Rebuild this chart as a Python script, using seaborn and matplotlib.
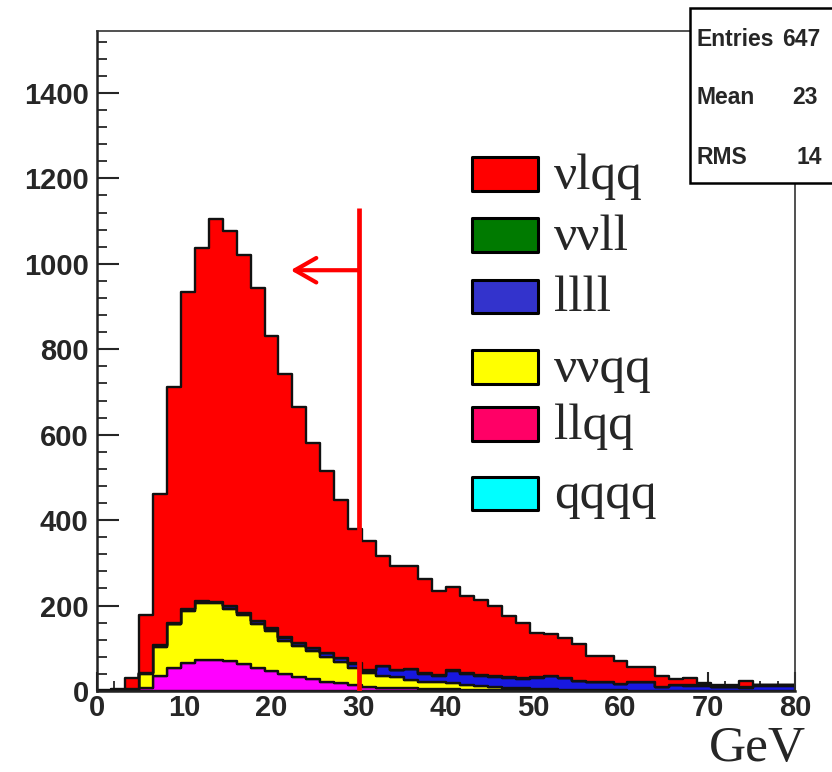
import numpy as np
import pandas as pd
import matplotlib
matplotlib.use("Agg")
import matplotlib.pyplot as plt
import seaborn as sns
from matplotlib.patches import Rectangle
from matplotlib.ticker import MultipleLocator

# ---------------- data (events per 1.6 GeV bin, 0-80 GeV) ----------------
processes = ["vlqq", "vvll", "llll", "vvqq", "llqq", "qqqq"]
legend_labels = ["νlqq", "ννll", "llll", "ννqq", "llqq", "qqqq"]

vlqq = [2, 2, 25, 136, 355, 553, 743, 827, 895, 878,
        838, 778, 684, 616, 551, 479, 427, 370, 315, 303,
        258, 243, 241, 222, 198, 195, 182, 175, 166, 144,
        129, 103, 98, 92, 87, 60, 60, 54, 36, 36,
        26, 14, 18, 6, 5, 5, 15, 2, 2, 1]
vvll = [0, 0, 0, 0, 1, 1, 1, 1, 1, 1,
        1, 1, 1, 1, 1, 1, 1, 1, 1, 1,
        1, 1, 1, 1, 1, 1, 1, 1, 1, 1,
        1, 1, 1, 1, 1, 1, 1, 1, 1, 1,
        1, 1, 1, 1, 1, 1, 1, 1, 1, 1]
llll = [0, 1, 1, 2, 2, 2, 3, 3, 3, 5,
        5, 6, 6, 7, 6, 6, 8, 9, 9, 4,
        22, 17, 26, 20, 16, 29, 25, 24, 24, 23,
        23, 26, 31, 27, 20, 18, 18, 14, 19, 19,
        8, 13, 12, 12, 9, 9, 8, 12, 12, 12]
vvqq = [0, 2, 3, 32, 69, 101, 122, 135, 132, 123,
        114, 103, 93, 78, 73, 66, 58, 50, 41, 33,
        28, 25, 19, 15, 16, 14, 12, 9, 7, 6,
        4, 4, 3, 2, 2, 1, 2, 2, 1, 1,
        1, 1, 0, 0, 0, 0, 0, 0, 0, 0]
llqq = [0, 0, 1, 8, 35, 55, 66, 72, 73, 70,
        63, 55, 47, 40, 33, 28, 22, 18, 14, 10,
        8, 7, 6, 5, 4, 4, 3, 3, 2, 2,
        2, 1, 1, 1, 1, 1, 0, 0, 0, 0,
        0, 0, 0, 0, 0, 0, 0, 0, 0, 0]
qqqq = [0, 0, 0, 0, 0, 0, 0, 0, 0, 0,
        0, 0, 0, 0, 0, 0, 0, 0, 0, 0,
        0, 0, 0, 0, 0, 0, 0, 0, 0, 0,
        0, 0, 0, 0, 0, 0, 0, 0, 0, 0,
        0, 0, 0, 0, 0, 0, 0, 0, 0, 0]

x_min, x_max, n_bins = 0, 80, 50
y_max = 1545
y_ticks = [0, 200, 400, 600, 800, 1000, 1200, 1400]
x_ticks = [0, 10, 20, 30, 40, 50, 60, 70, 80]
cut_value = 30
cut_top = 1130
arrow_tip = 22.2
arrow_y = 985
stats = [("Entries", "647"), ("Mean", "23"), ("RMS", "14")]

series = {"vlqq": vlqq, "vvll": vvll, "llll": llll,
          "vvqq": vvqq, "llqq": llqq, "qqqq": qqqq}

# ---------------- styles ----------------
plot_colors = {"vlqq": "#FF0000", "vvll": "#007F00", "llll": "#1818E0",
               "vvqq": "#FFFF00", "llqq": "#FF00FF", "qqqq": "#00FFFF"}
legend_colors = ["#FF0000", "#007A00", "#3333CC", "#FFFF00", "#FF0066", "#00FFFF"]

sns.set_style("white")
plt.rcParams["font.family"] = ["Liberation Sans", "DejaVu Sans"]

W, H = 832, 772
fig = plt.figure(figsize=(W / 100, H / 100), dpi=100)
fig.patch.set_facecolor("white")

ax_left, ax_right, ax_bottom, ax_top = 97, 795, 691, 31
ax = fig.add_axes([ax_left / W, 1 - ax_bottom / H,
                   (ax_right - ax_left) / W, (ax_bottom - ax_top) / H])

bin_w = (x_max - x_min) / n_bins
centers = x_min + bin_w * (np.arange(n_bins) + 0.5)
df = pd.DataFrame({
    "E": np.tile(centers, len(processes)),
    "w": np.concatenate([series[p] for p in processes]).astype(float),
    "proc": np.repeat(processes, n_bins),
})

sns.histplot(data=df, x="E", weights="w", hue="proc", hue_order=processes,
             multiple="stack", bins=n_bins, binrange=(x_min, x_max),
             element="step", fill=True,
             palette=plot_colors, alpha=1, linewidth=1.7, edgecolor="#111111",
             legend=False, ax=ax)

ax.set_xlim(x_min, x_max)
ax.set_ylim(0, y_max)
ax.set_xlabel("")
ax.set_ylabel("")
ax.set_axisbelow(True)

ax.set_yticks(y_ticks)
ax.set_xticks(x_ticks)
ax.yaxis.set_minor_locator(MultipleLocator(40))
ax.xaxis.set_minor_locator(MultipleLocator(2))
ax.tick_params(axis="y", which="major", direction="in", length=16, width=1.5,
               left=True, right=False, pad=6, labelsize=21)
ax.tick_params(axis="y", which="minor", direction="in", length=7.5, width=1.3,
               left=True, right=False)
ax.tick_params(axis="x", which="major", direction="in", length=14, width=1.5,
               bottom=True, top=False, pad=2.5, labelsize=21)
ax.tick_params(axis="x", which="minor", direction="in", length=7, width=1.3,
               bottom=True, top=False)
for lab in ax.get_xticklabels() + ax.get_yticklabels():
    lab.set_fontweight("bold")

for side in ["left", "bottom"]:
    ax.spines[side].set_linewidth(1.8)
    ax.spines[side].set_color("#222222")
for side in ["top", "right"]:
    ax.spines[side].set_linewidth(1.2)
    ax.spines[side].set_color("#333333")

# cut line and arrow
ax.plot([cut_value, cut_value], [0, cut_top], color="red", lw=3.4,
        solid_capstyle="butt", zorder=6)
ax.annotate("", xy=(arrow_tip, arrow_y), xytext=(cut_value, arrow_y),
            arrowprops=dict(arrowstyle="->,head_length=0.7,head_width=0.4",
                            color="red", lw=3, mutation_scale=22,
                            shrinkA=0, shrinkB=0),
            zorder=6)

# legend (drawn manually to reproduce the reference)
leg_boxes = [(157, 191), (218, 252), (280, 313), (350, 384), (407, 441), (477, 510)]
for (ytop, ybot), col, lab in zip(leg_boxes, legend_colors, legend_labels):
    fig.add_artist(Rectangle((472 / W, 1 - ybot / H), (538 - 472) / W,
                             (ybot - ytop) / H, transform=fig.transFigure,
                             facecolor=col, edgecolor="black", lw=2.2,
                             joinstyle="round", zorder=8))
    fig.text(554 / W, 1 - (ybot - 2) / H, lab, fontsize=37,
             family=["Liberation Serif", "DejaVu Serif"],
             va="baseline", ha="left", zorder=8)

# stats box
fig.add_artist(Rectangle((690 / W, 1 - 183 / H), 0.2, (183 - 8) / H,
                         transform=fig.transFigure, facecolor="white",
                         edgecolor="black", lw=1.8, zorder=9, clip_on=False))
stat_rows = [40, 98, 157]
stat_val_x = [782, 792, 797]
for (name, val), yy, vx in zip(stats, stat_rows, stat_val_x):
    fig.text(697 / W, 1 - yy / H, name, fontsize=16.5, fontweight="bold",
             va="center", ha="left", zorder=10)
    fig.text(vx / W, 1 - yy / H, val, fontsize=16.5, fontweight="bold",
             va="center", ha="left", zorder=10)

# axis unit
fig.text(806 / W, 1 - 771.5 / H, "GeV", fontsize=37,
         family=["Liberation Serif", "DejaVu Serif"],
         ha="right", va="bottom")

fig.savefig("out.png", dpi=100, facecolor="white")
